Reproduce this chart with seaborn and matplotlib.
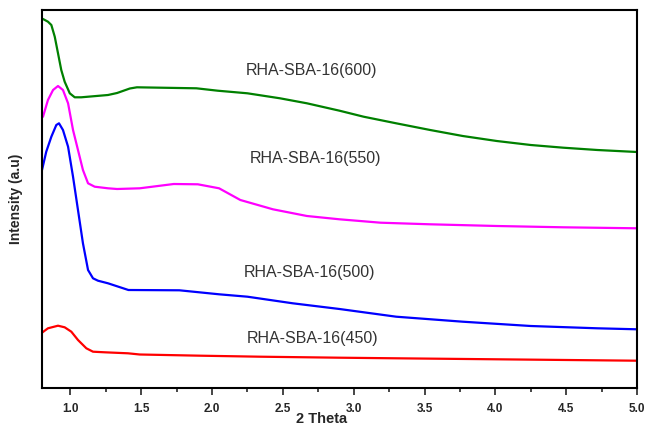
import numpy as np
import pandas as pd
import matplotlib
matplotlib.use("Agg")
import matplotlib.pyplot as plt
import seaborn as sns

# Data (intensity in arbitrary units)
x_600 = [0.80, 0.807, 0.842, 0.866, 0.890, 0.913, 0.936, 0.960, 0.996, 1.031, 1.077, 1.266, 1.33,
         1.42, 1.47, 1.89, 2.04, 2.25, 2.48, 2.67, 2.90, 3.07, 3.30, 3.54, 3.77, 4.01, 4.25,
         4.48, 4.72, 5.0]
y_600 = [369, 369, 366.3, 363, 351.3, 334.7, 318, 306.3, 294.7, 290.7, 290.7, 293, 295,
         299.5, 300.7, 299.7, 297.3, 294.7, 289.7, 284.7, 277.3, 271.3, 264.7, 258, 252, 247, 243,
         240.3, 238, 236]

x_550 = [0.80, 0.807, 0.842, 0.878, 0.913, 0.948, 0.984, 1.019, 1.054, 1.089, 1.125, 1.172,
         1.266, 1.33, 1.49, 1.73, 1.90, 2.05, 2.20, 2.43, 2.67, 2.90, 3.19, 3.54, 4.01, 4.48, 5.0]
y_550 = [271, 271.3, 288, 298, 302, 298, 284.7, 258, 238, 218, 204.7, 201.3,
         199.7, 199, 199.7, 204, 203.7, 199.7, 188, 178.7, 172, 168.7, 165.3, 163.7, 162, 160.7, 159.7]

x_500 = [0.80, 0.830, 0.866, 0.901, 0.920, 0.948, 0.984, 1.019, 1.054, 1.089, 1.125, 1.160,
         1.195, 1.266, 1.41, 1.77, 2.05, 2.25, 2.57, 2.90, 3.30, 3.77, 4.25, 4.72, 5.0]
y_500 = [218, 236.3, 251.3, 263, 264.7, 258, 241.3, 211.3, 178, 144.7, 118, 109.7,
         107.3, 104.7, 98, 97.7, 93.7, 91.3, 84.7, 79, 71.3, 66.3, 62, 59.7, 58.7]

x_450 = [0.80, 0.842, 0.913, 0.960, 1.007, 1.054, 1.113, 1.160, 1.243, 1.407, 1.49, 1.92, 2.34,
         2.90, 3.30, 4.01, 5.0]
y_450 = [55.3, 59.7, 62.3, 60.7, 56.3, 48, 39.7, 36.3, 35.7, 34.7, 33.5, 32.3, 31.3,
         30.3, 29.7, 28.7, 27.3]

labels = ["RHA-SBA-16(600)", "RHA-SBA-16(550)", "RHA-SBA-16(500)", "RHA-SBA-16(450)"]
colors = ["#008000", "#FF00FF", "#0000FF", "#FF0000"]
x_ticks = [1.0, 1.5, 2.0, 2.5, 3.0, 3.5, 4.0, 4.5, 5.0]

sns.set_style("white")
plt.rcParams['font.family'] = ['Liberation Sans', 'DejaVu Sans']

fig = plt.figure(figsize=(6.46, 4.28), dpi=100)
ax = fig.add_axes([42/646, 40/428, (637-42)/646, (388-10)/428])

series = [(x_600, y_600), (x_550, y_550), (x_500, y_500), (x_450, y_450)]
for (xs, ys), lab, col in zip(series, labels, colors):
    df = pd.DataFrame({"x": xs, "y": ys})
    sns.lineplot(data=df, x="x", y="y", ax=ax, color=col, linewidth=1.6, sort=False,
                 estimator=None)

# Curve labels
label_pos = [(2.70, 318), (2.73, 230), (2.69, 116), (2.71, 50)]
for (lx, ly), lab in zip(label_pos, labels):
    ax.text(lx, ly, lab, ha="center", va="center", fontsize=11.5, color="#333333")

ax.set_xlim(0.8, 5.0)
ax.set_ylim(0, 378)
ax.set_xticks(x_ticks)
ax.set_xticklabels([f"{t:.1f}" for t in x_ticks], fontweight="bold", fontsize=8.5)
ax.set_xticks(np.arange(0.75, 5.01, 0.25)[1:], minor=True)
ax.set_yticks([])
ax.tick_params(axis="x", which="major", direction="out", length=5, width=1.2, bottom=True, pad=6)
ax.tick_params(axis="x", which="minor", direction="out", length=3, width=1.2, bottom=True)
ax.set_xlabel("2 Theta", fontweight="bold", fontsize=10.5)
ax.xaxis.set_label_coords(0.47, -0.063)
ax.set_ylabel("Intensity (a.u)", fontweight="bold", fontsize=10, labelpad=14)
for s in ax.spines.values():
    s.set_visible(True)
    s.set_color("black")
    s.set_linewidth(1.5)

fig.savefig("out.png", dpi=100)
